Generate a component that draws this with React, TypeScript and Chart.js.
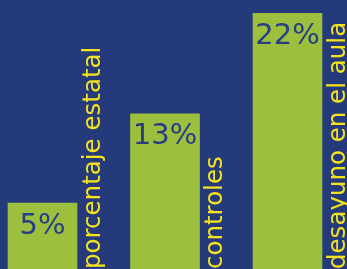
import { useEffect, useRef } from "react";
import { Chart, registerables } from "chart.js";

Chart.register(...registerables);

const categories = ["porcentaje estatal", "controles", "desayuno en el aula"];
const values = [5, 13, 22];
const valueLabels = ["5%", "13%", "22%"];
const yMin = -0.9;
const yMax = 23.2;

const BG = "#243a7b";
const GREEN = "#9cc03d";
const YELLOW = "#f4e21e";
const VALUE_TEXT = "#263d86";

const labelPlugin = {
  id: "barLabels",
  afterDatasetsDraw(chart: any) {
    const ctx = chart.ctx;
    const meta = chart.getDatasetMeta(0);
    ctx.save();
    meta.data.forEach((bar: any, i: number) => {
      const { x, y, width } = bar.getProps(["x", "y", "width"], true);
      ctx.fillStyle = VALUE_TEXT;
      ctx.font = "29px 'DejaVu Sans'";
      ctx.textAlign = "center";
      ctx.textBaseline = "alphabetic";
      ctx.fillText(valueLabels[i], x, y + 30.6);

      ctx.save();
      ctx.translate(x + width / 2 + 22.5, chart.chartArea.bottom);
      ctx.rotate(-Math.PI / 2);
      ctx.fillStyle = YELLOW;
      ctx.font = "24.5px 'DejaVu Sans'";
      ctx.textAlign = "left";
      ctx.textBaseline = "alphabetic";
      ctx.fillText(categories[i], 0, 0);
      ctx.restore();
    });
    ctx.restore();
  },
};

export default function App() {
  const ref = useRef<HTMLCanvasElement | null>(null);
  useEffect(() => {
    if (!ref.current) return;
    const chart = new Chart(ref.current, {
      type: "bar",
      data: {
        labels: categories,
        datasets: [
          {
            data: values,
            backgroundColor: GREEN,
            borderWidth: 0,
            barThickness: 69,
            base: yMin,
            clip: false as any,
          } as any,
        ],
      },
      options: {
        animation: false,
        responsive: false,
        devicePixelRatio: 1,
        layout: { padding: { left: 42.5, right: 59.5, top: 0, bottom: 0 } },
        plugins: { legend: { display: false }, tooltip: { enabled: false } },
        scales: {
          x: { type: "category", offset: false, display: false },
          y: { min: yMin, max: yMax, display: false },
        },
      },
      plugins: [labelPlugin],
    });
    return () => chart.destroy();
  }, []);
  return (
    <div
      style={{
        position: "fixed",
        left: 0,
        top: 0,
        width: 347,
        height: 269,
        background: BG,
        overflow: "hidden",
      }}
    >
      <canvas ref={ref} width={347} height={269} style={{ display: "block" }} />
    </div>
  );
}
